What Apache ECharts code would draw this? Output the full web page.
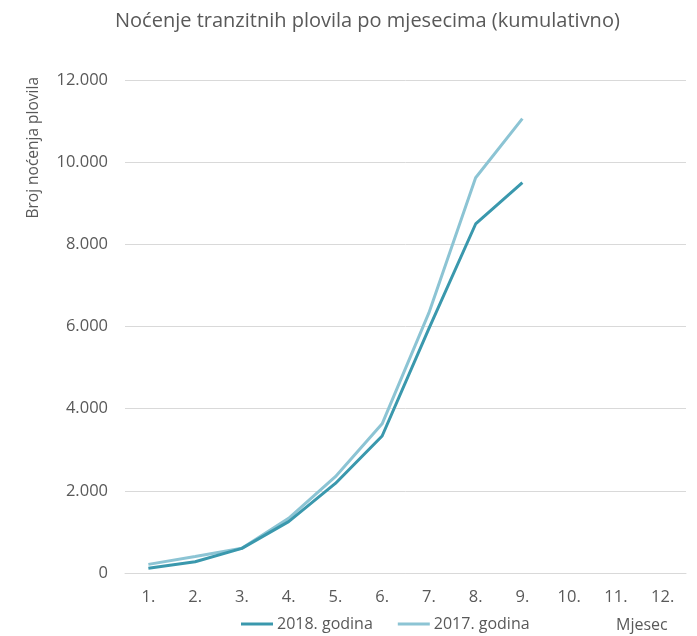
<!DOCTYPE html>
<html>
<head>
<meta charset="utf-8">
<script src="https://cdn.jsdelivr.net/npm/echarts@6/dist/echarts.min.js"></script>
<style>html,body{margin:0;padding:0;background:#fff;}#c{width:697px;height:636px;}</style>
</head>
<body>
<div id="c"></div>
<script>
const categories = ['1.', '2.', '3.', '4.', '5.', '6.', '7.', '8.', '9.', '10.', '11.', '12.'];
const series2018 = [115, 275, 600, 1250, 2180, 3335, 5950, 8495, 9500, null, null, null];
const series2017 = [210, 400, 600, 1330, 2345, 3630, 6330, 9620, 11060, null, null, null];
const seriesNames = ['2018. godina', '2017. godina'];
const titleText = 'Noćenje tranzitnih plovila po mjesecima (kumulativno)';
const yAxisTitle = 'Broj noćenja plovila';
const xAxisTitle = 'Mjesec';

const FONT = 'Open Sans';
const chart = echarts.init(document.getElementById('c'), null, {renderer: 'canvas'});
chart.setOption({
  animation: false,
  backgroundColor: '#ffffff',
  title: {
    text: titleText, left: 110, top: 6,
    textStyle: {fontFamily: FONT, fontSize: 20, fontWeight: 'normal', color: '#595959'}
  },
  grid: {left: 125, right: 11, top: 80, bottom: 63},
  legend: {
    left: 241, top: 616, padding: 0, itemGap: 25, itemWidth: 32, itemHeight: 3, icon: 'rect',
    data: seriesNames,
    textStyle: {fontFamily: FONT, fontSize: 16, color: '#595959', padding: [0, 0, 0, -1]}
  },
  xAxis: {
    type: 'category', data: categories, boundaryGap: true,
    axisLine: {lineStyle: {color: '#d9d9d9', width: 1}},
    axisTick: {show: false},
    axisLabel: {fontFamily: FONT, fontSize: 16.5, color: '#595959', margin: 16}
  },
  yAxis: {
    type: 'value', min: 0, max: 12000, interval: 2000,
    axisLine: {show: false}, axisTick: {show: false},
    splitLine: {lineStyle: {color: '#d9d9d9', width: 1}},
    axisLabel: {
      fontFamily: FONT, fontSize: 16.5, color: '#595959', margin: 17,
      formatter: v => v === 0 ? '0' : String(v).replace(/\B(?=(\d{3})+(?!\d))/g, '.')
    }
  },
  graphic: [
    {type: 'text', left: 26, top: 77, rotation: Math.PI / 2,
     style: {text: yAxisTitle, fontFamily: FONT, fontSize: 15.5, fill: '#595959'}},
    {type: 'text', left: 616, top: 617,
     style: {text: xAxisTitle, fontFamily: FONT, fontSize: 16, fill: '#595959'}}
  ],
  series: [
    {name: seriesNames[0], type: 'line', data: series2018, symbol: 'none', z: 3,
     lineStyle: {color: '#3a98ad', width: 3}, itemStyle: {color: '#3a98ad'}},
    {name: seriesNames[1], type: 'line', data: series2017, symbol: 'none', z: 2,
     lineStyle: {color: '#8cc4d4', width: 3}, itemStyle: {color: '#8cc4d4'}}
  ]
});
</script>
</body>
</html>
